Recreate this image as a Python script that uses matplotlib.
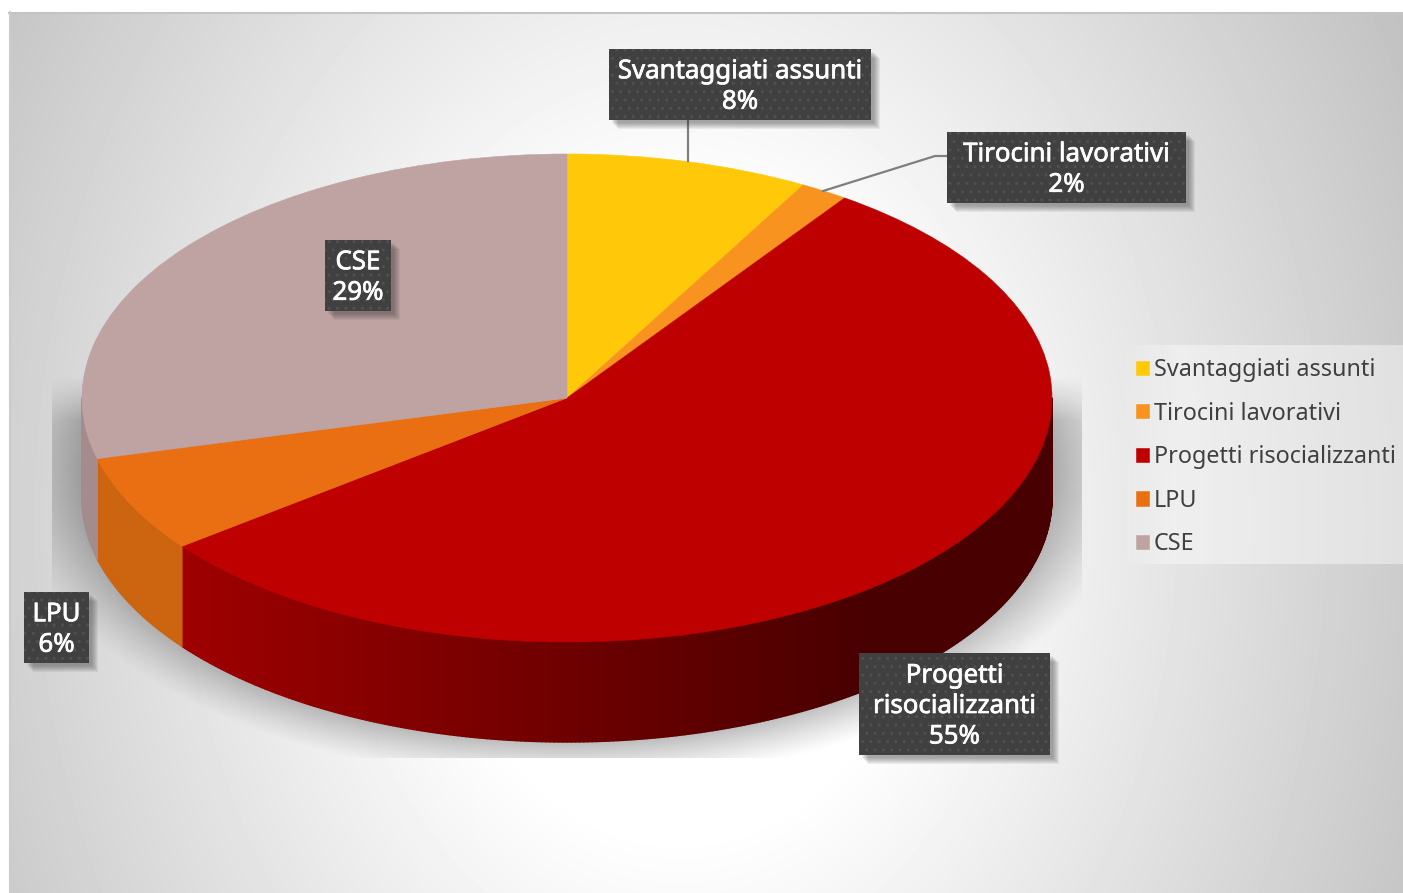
import numpy as np
import matplotlib
matplotlib.use("Agg")
import matplotlib.pyplot as plt
from matplotlib.patches import Rectangle
from matplotlib.collections import PolyCollection
import matplotlib.patheffects as pe

categories = ["Svantaggiati assunti", "Tirocini lavorativi", "Progetti risocializzanti", "LPU", "CSE"]
values = [8.1, 1.6, 54.9, 6.4, 29.0]
top_colors = ["#FFC90A", "#F7931E", "#BE0000", "#EA6F13", "#BFA3A3"]
side_left = ["#CCA008", "#C67618", "#A00000", "#CC6410", "#A58C8C"]
side_right = ["#CCA008", "#C67618", "#480000", "#C86010", "#A58C8C"]
label_text = ["Svantaggiati assunti", "Tirocini lavorativi", "Progetti\nrisocializzanti", "LPU", "CSE"]
label_boxes = [(609, 49, 871, 120), (947, 132, 1186, 203), (859, 653, 1050, 755),
               (24, 592, 89, 663), (325, 240, 391, 311)]

W, H = 1403, 893
FONT = "Noto Sans"
matplotlib.rcParams["hatch.linewidth"] = 1.0
fig = plt.figure(figsize=(W / 100, H / 100), dpi=100, facecolor="white")

# Pixel-mapped backdrop axes
bg = fig.add_axes([0, 0, 1, 1], zorder=0)
bg.axis("off")

yy, xx = np.mgrid[12:H, 9:W]
r = np.hypot((xx - 680) / 700.0, (yy - 520) / 900.0)
g = 1.0 - 0.22 * np.clip((r - 0.35) / 0.75, 0, 1.2)
bg.imshow(g, extent=(9, W, H, 12), cmap="gray", vmin=0, vmax=1, aspect="auto", interpolation="bilinear", zorder=0)
bg.plot([9, W], [12.5, 12.5], color="#c4c4c4", lw=1.5, zorder=1)
bg.plot([9.5, 9.5], [12, H], color="#cccccc", lw=1.5, zorder=1)

# Soft shadow beneath the pie, clipped to a rectangle
sy, sx = np.mgrid[370:758, 52:1082]
d = np.hypot((sx - 568) / 505.0, (sy - 470) / 280.0)
shadow = np.clip((1.12 - d) / 0.22, 0, 1) ** 1.2
sh_rgba = np.zeros(shadow.shape + (4,))
sh_rgba[..., 3] = 0.42 * shadow * np.clip((sy - 375) / 45.0, 0, 1)
bg.imshow(sh_rgba, extent=(52, 1082, 758, 370), aspect="auto", zorder=2)

# Legend panel
panel = np.ones((4, 64, 4))
panel[..., 3] = 0.42 * np.clip(np.linspace(0, 1, 64) / 0.2, 0, 1)
bg.imshow(panel, extent=(1118, W, 564, 345), aspect="auto", zorder=2, interpolation="bilinear")
bg.set_xlim(0, W); bg.set_ylim(H, 0)

# Pie axes covering the top ellipse
L, R, T, B = 82, 1052, 154, 642
ax = fig.add_axes([L / W, 1 - B / H, (R - L) / W, (B - T) / H], zorder=2)
wedges, _ = ax.pie(values, colors=top_colors, startangle=90, counterclock=False,
                   radius=1.0, wedgeprops=dict(linewidth=0))
ax.set_aspect("auto")
ax.set_xlim(-1, 1); ax.set_ylim(-1, 1)
for w in wedges:
    w.set_zorder(5)
    w.set_edgecolor(w.get_facecolor())
    w.set_linewidth(0.4)

depth = 100 / ((B - T) / 2)
edges = np.concatenate([[0], np.cumsum(values)]) / sum(values) * 360
polys, fcs = [], []
for i in range(len(values)):
    a0, a1 = max(edges[i], 90), min(edges[i + 1], 270)
    if a1 <= a0:
        continue
    th = np.radians(np.append(np.arange(a0, a1, 0.5), a1))
    c0 = np.array(matplotlib.colors.to_rgb(side_left[i]))
    c1 = np.array(matplotlib.colors.to_rgb(side_right[i]))
    for p, q in zip(th[:-1], th[1:]):
        x0, x1 = np.sin(p), np.sin(q)
        y0, y1 = np.cos(p), np.cos(q)
        polys.append([(x0, y0), (x1, y1), (x1, y1 - depth), (x0, y0 - depth)])
        t = np.clip((0.62 - (x0 + x1) / 2) / (0.62 + 0.81), 0, 1)
        fcs.append(c1 + (c0 - c1) * t)
ax.add_collection(PolyCollection(polys, facecolors=fcs, edgecolors="face", linewidths=1.0,
                                 clip_on=False, zorder=3))

# Overlay for leader lines, labels and legend
ov = fig.add_axes([0, 0, 1, 1], zorder=3)
ov.set_xlim(0, W); ov.set_ylim(H, 0); ov.axis("off"); ov.patch.set_alpha(0)
ov.plot([688, 688], [120, 161], color="#7f7f7f", lw=1.6, zorder=1)
ov.plot([823, 935, 947], [191, 156, 156], color="#7f7f7f", lw=1.6, zorder=1)

for cat, val, txt, (x0, y0, x1, y1) in zip(categories, values, label_text, label_boxes):
    for off in [9, 8, 7, 6, 5, 4, 3]:
        ov.add_patch(Rectangle((x0 + off, y0 + off), x1 - x0, y1 - y0, fc="#303030", ec="none", alpha=0.07, zorder=2))
    ov.add_patch(Rectangle((x0, y0), x1 - x0, y1 - y0, fc="#404040", ec="none", zorder=3))
    ov.add_patch(Rectangle((x0, y0), x1 - x0, y1 - y0, fc="none", ec="#505050", hatch="..", lw=0, zorder=3.1))
    ov.text((x0 + x1) / 2, (y0 + y1) / 2 + 2.5, f"{txt}\n{val:.0f}%", color="white", ha="center", va="center",
            fontsize=18.6, family=FONT, linespacing=1.29, zorder=4,
            path_effects=[pe.withStroke(linewidth=0.5, foreground="white")])

fs = 16.8
leg = ov.legend(wedges, categories, loc="upper left", bbox_to_anchor=(1136 / W, 1 - 358 / H),
                bbox_transform=fig.transFigure, frameon=False, prop=dict(family=FONT, size=fs),
                handlelength=0.56, handleheight=0.56, handletextpad=0.2, labelspacing=0.84,
                borderpad=0, borderaxespad=0, labelcolor="#404040")

fig.savefig("out.png", dpi=100)
